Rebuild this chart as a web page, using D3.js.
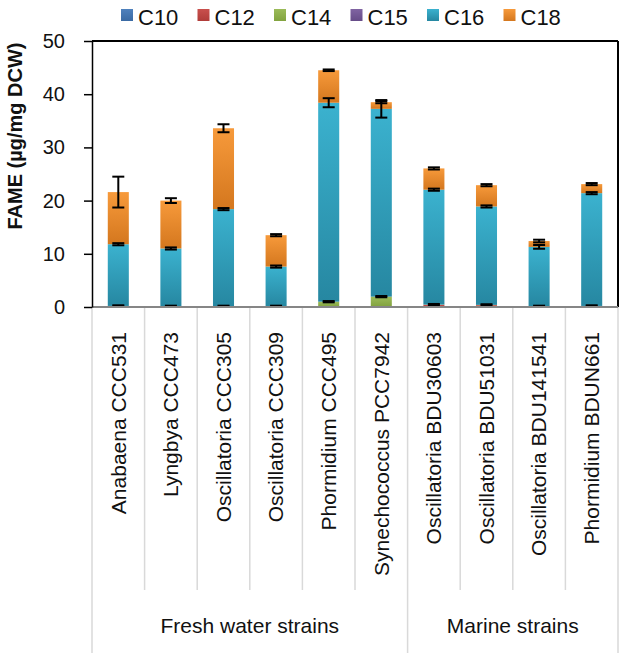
<!DOCTYPE html>
<html>
<head>
<meta charset="utf-8">
<script src="https://cdn.jsdelivr.net/npm/d3@7"></script>
<style>
  body { margin: 0; background: #fff; }
  text { font-family: "Liberation Sans", Arial, sans-serif; fill: #111; }
</style>
</head>
<body>
<svg id="drawing_region"></svg>
<script>
// strains and groups
var strains = ["Anabaena CCC531", "Lyngbya CCC473", "Oscillatoria CCC305", "Oscillatoria CCC309",
    "Phormidium CCC495", "Synechococcus PCC7942", "Oscillatoria BDU30603", "Oscillatoria BDU51031",
    "Oscillatoria BDU141541", "Phormidium BDUN661"];
var groups = ["Fresh water strains", "Marine strains"];
var group_sizes = [6, 4];

var series_names = ["C10", "C12", "C14", "C15", "C16", "C18"];

// FAME content per fatty acid (µg/mg DCW)
var c10 = [0.05, 0.05, 0.05, 0.05, 0.05, 0.05, 0.05, 0.05, 0.05, 0.05];
var c12 = [0.05, 0.05, 0.05, 0.05, 0.05, 0.05, 0.35, 0.30, 0.05, 0.10];
var c14 = [0.10, 0.05, 0.05, 0.05, 0.90, 1.85, 0.05, 0.05, 0.05, 0.05];
var c15 = [0, 0, 0, 0, 0, 0, 0, 0, 0, 0];
var c16 = [11.6, 10.85, 18.25, 7.45, 37.4, 35.3, 21.6, 18.5, 11.15, 21.2];
var c18 = [9.8, 9.0, 15.2, 5.9, 6.1, 1.25, 4.0, 4.0, 1.1, 1.7];

// standard deviations (drawn at the cumulative top of the segment)
var err_c14 = [0.12, 0.1, 0.1, 0.1, 0.12, 0.12, 0.12, 0.12, 0.1, 0.12];
var err_c16 = [0.2, 0.2, 0.2, 0.2, 0.85, 1.65, 0.2, 0.2, 0.35, 0.2];
var err_c18 = [2.9, 0.45, 0.75, 0.2, 0.15, 0.2, 0.2, 0.2, 0.25, 0.2];

var y_ticks = [0, 10, 20, 30, 40, 50];

var colors = {
    C10: ["#4F81BD", "#3A6AA3"],
    C12: ["#C9504D", "#B03C39"],
    C14: ["#9BBB59", "#82A33F"],
    C15: ["#8064A2", "#664C88"],
    C16: ["#3BB2CF", "#2687A1"],
    C18: ["#F79A3B", "#D4771E"]
};

var config = {
    width: 624,
    height: 660,
    left: 92, right: 618, top: 41, bottom: 307
};

var data = strains.map((s, i) => ({
    strain: s, C10: c10[i], C12: c12[i], C14: c14[i], C15: c15[i], C16: c16[i], C18: c18[i]
}));

var svg = d3.select('#drawing_region')
    .attr('width', config.width)
    .attr('height', config.height);

var defs = svg.append('defs');
series_names.forEach(k => {
    var g = defs.append('linearGradient')
        .attr('id', 'grad_' + k)
        .attr('x1', 0).attr('y1', 0).attr('x2', 0).attr('y2', 1);
    g.append('stop').attr('offset', '0%').attr('stop-color', colors[k][0]);
    g.append('stop').attr('offset', '100%').attr('stop-color', colors[k][1]);
});

var xscale = d3.scaleBand()
    .domain(strains)
    .range([config.left, config.right])
    .padding(0);

var yscale = d3.scaleLinear()
    .domain([0, 50])
    .range([config.bottom, config.top]);

var bar_w = xscale.bandwidth() * 0.4;

// category dividers below the axis
var divider_color = "#d9d9d9";
var group_edges = [0, 6, 10];
strains.forEach((s, i) => {
    if (group_edges.indexOf(i) >= 0) return;
    svg.append('line')
        .attr('x1', xscale(s)).attr('x2', xscale(s))
        .attr('y1', config.bottom).attr('y2', 590)
        .attr('stroke', divider_color).attr('stroke-width', 1.5);
});
group_edges.forEach(i => {
    var x = i < strains.length ? xscale(strains[i]) : config.right;
    svg.append('line')
        .attr('x1', x).attr('x2', x)
        .attr('y1', config.bottom).attr('y2', 653)
        .attr('stroke', divider_color).attr('stroke-width', 1.5);
});

// stacked bars
var stack = d3.stack().keys(series_names);
var stacked = stack(data);

svg.append('g')
    .selectAll('g')
    .data(stacked)
    .join('g')
    .attr('fill', d => `url(#grad_${d.key})`)
    .selectAll('rect')
    .data(d => d)
    .join('rect')
    .attr('x', d => xscale(d.data.strain) + (xscale.bandwidth() - bar_w) / 2)
    .attr('y', d => yscale(d[1]))
    .attr('width', bar_w)
    .attr('height', d => Math.max(0, yscale(d[0]) - yscale(d[1])));

// error bars
var err_sets = [
    { key: "C14", err: err_c14 },
    { key: "C16", err: err_c16 },
    { key: "C18", err: err_c18 }
];
var err_g = svg.append('g').attr('stroke', '#000').attr('stroke-width', 2);
err_sets.forEach(es => {
    var layer = stacked.find(l => l.key === es.key);
    layer.forEach((d, i) => {
        var cx = xscale(d.data.strain) + xscale.bandwidth() / 2;
        var hi = yscale(d[1] + es.err[i]);
        var lo = yscale(d[1] - es.err[i]);
        err_g.append('line').attr('x1', cx).attr('x2', cx).attr('y1', hi).attr('y2', lo);
        err_g.append('line').attr('x1', cx - 6).attr('x2', cx + 6).attr('y1', hi).attr('y2', hi);
        err_g.append('line').attr('x1', cx - 6).attr('x2', cx + 6).attr('y1', lo).attr('y2', lo);
    });
});

// plot frame
svg.append('line')
    .attr('x1', config.left).attr('x2', config.right)
    .attr('y1', config.top).attr('y2', config.top)
    .attr('stroke', '#000').attr('stroke-width', 2);
svg.append('line')
    .attr('x1', config.right).attr('x2', config.right)
    .attr('y1', config.top).attr('y2', config.bottom)
    .attr('stroke', '#000').attr('stroke-width', 2);
svg.append('line')
    .attr('x1', config.left).attr('x2', config.right)
    .attr('y1', config.bottom).attr('y2', config.bottom)
    .attr('stroke', '#868686').attr('stroke-width', 2);

// y axis
var yaxis = d3.axisLeft(yscale)
    .tickValues(y_ticks)
    .tickSize(8)
    .tickPadding(19)
    .tickSizeOuter(0);

var yaxis_group = svg.append('g')
    .attr('transform', `translate(${config.left}, 0)`)
    .call(yaxis);
yaxis_group.select('.domain').attr('stroke', '#000').attr('stroke-width', 1.5);
yaxis_group.selectAll('.tick line').attr('stroke', '#000').attr('stroke-width', 1.5);
yaxis_group.selectAll('.tick text')
    .attr('font-size', '20px')
    .attr('font-family', '"Liberation Sans", Arial, sans-serif')
    .attr('fill', '#111');

svg.append('text')
    .attr('transform', 'translate(22, 136) rotate(-90)')
    .attr('text-anchor', 'middle')
    .style('font-size', '20px')
    .style('font-weight', 'bold')
    .text('FAME (µg/mg DCW)');

// category labels
svg.append('g')
    .selectAll('text')
    .data(strains)
    .join('text')
    .attr('transform', d => `translate(${xscale(d) + xscale.bandwidth() / 2}, 332) rotate(-90)`)
    .attr('text-anchor', 'end')
    .attr('dy', '0.35em')
    .style('font-size', '21px')
    .text(d => d);

// group labels
var start = 0;
groups.forEach((g, i) => {
    var x0 = xscale(strains[start]);
    var end = start + group_sizes[i];
    var x1 = end < strains.length ? xscale(strains[end]) : config.right;
    svg.append('text')
        .attr('x', (x0 + x1) / 2)
        .attr('y', 633)
        .attr('text-anchor', 'middle')
        .style('font-size', '21px')
        .text(g);
    start = end;
});

// legend
var legend = svg.append('g')
    .selectAll('g')
    .data(series_names)
    .join('g')
    .attr('transform', (d, i) => `translate(${121 + i * 76.5}, 0)`);
legend.append('rect')
    .attr('x', 0).attr('y', 9)
    .attr('width', 12).attr('height', 12)
    .attr('fill', d => `url(#grad_${d})`);
legend.append('text')
    .attr('x', 17).attr('y', 25)
    .style('font-size', '22px')
    .text(d => d);
</script>
</body>
</html>
